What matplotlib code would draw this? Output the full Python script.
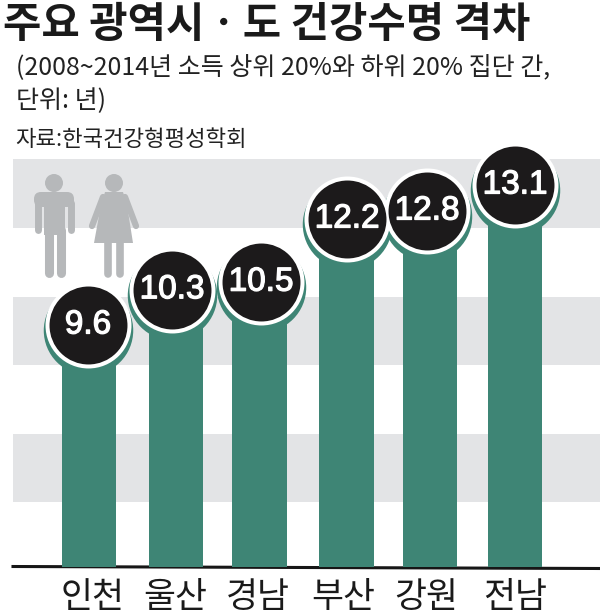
import matplotlib
matplotlib.use("Agg")
from matplotlib import pyplot as plt
from matplotlib.patches import Rectangle, Polygon, Circle, FancyBboxPatch
import matplotlib.patheffects as pe

plt.rcParams['font.family'] = ['Noto Sans CJK KR', 'DejaVu Sans']

regions = ['인천', '울산', '경남', '부산', '강원', '전남']
gap_labels = ['9.6', '10.3', '10.5', '12.2', '12.8', '13.1']
# heights as drawn in the picture, in years (the graphic is not quite to scale)
drawn_gap = [9.6, 10.48, 10.67, 12.25, 12.45, 13.1]

GREEN = '#3e8575'
BAND = '#e3e4e6'
DARK = '#1c1a1b'
ICON = '#b6b8ba'

fig = plt.figure(figsize=(6, 6.16), dpi=100)

# pixel layer for the background, icons and text
bg = fig.add_axes([0, 0, 1, 1])
bg.set_xlim(0, 600)
bg.set_ylim(616, 0)
bg.axis('off')

for top, bottom in [(159, 228), (297, 365), (434, 502)]:
    bg.add_patch(Rectangle((13, top), 587, bottom - top, color=BAND, lw=0))

# man
bg.add_patch(Circle((54, 183), 9, color=ICON, lw=0))
bg.add_patch(FancyBboxPatch((34, 192), 40, 15, boxstyle='round,pad=0,rounding_size=7', color=ICON, lw=0))
bg.add_patch(Rectangle((44, 200), 21, 35, color=ICON, lw=0))
for x in [37.5, 70.5]:
    bg.plot([x, x], [203, 230], color=ICON, lw=5, solid_capstyle='round')
for x in [48.5, 60.5]:
    bg.plot([x, x], [230, 273], color=ICON, lw=6.5, solid_capstyle='round')

# woman
bg.add_patch(Circle((114, 183), 9, color=ICON, lw=0))
bg.add_patch(Polygon([(105, 192), (123, 192), (127, 205), (133, 243), (94, 243), (101, 205)], color=ICON, lw=0))
bg.plot([103, 92], [197, 226], color=ICON, lw=4.5, solid_capstyle='round')
bg.plot([125, 136], [197, 226], color=ICON, lw=4.5, solid_capstyle='round')
for x in [108, 119.5]:
    bg.plot([x, x], [240, 274], color=ICON, lw=5.5, solid_capstyle='round')

# data layer, 40 px per year with the baseline at 3.55
ax = fig.add_axes([0, 0, 1, 1])
ax.patch.set_alpha(0)
ax.axis('off')
ax.set_xlim(0, 600)
ax.set_ylim(2.325, 17.725)

bar_x = [89, 176, 259.5, 346.5, 430, 515]
circle_x = [88, 172, 261, 347, 427, 515]
base = 3.55

ax.bar(bar_x, [v - base for v in drawn_gap], bottom=base, width=54.5, color=GREEN, linewidth=0, zorder=2)

ax.scatter(circle_x, [v - 0.13 for v in drawn_gap], s=4150, color=GREEN, linewidths=0, zorder=3)
ax.scatter(circle_x, drawn_gap, s=3830, color='white', linewidths=0, zorder=4)
ax.scatter(circle_x, drawn_gap, s=3150, color=DARK, linewidths=0, zorder=5)

for x, v, label in zip(circle_x, drawn_gap, gap_labels):
    ax.text(x, v, label, color='white', fontsize=24, family='Liberation Sans', ha='center', va='center', zorder=6,
            path_effects=[pe.withStroke(linewidth=0.9, foreground='white')])

bg.plot([13, 600], [566.5, 568.5], color='#161616', lw=2.2, zorder=3)

ax_label_x = [93, 175, 258, 343, 426, 515]
for x, name in zip(ax_label_x, regions):
    bg.text(x, 598, name, fontsize=25, color='#1a1a1a', ha='center', va='center')

bg.text(3, 25, '주요 광역시ㆍ도 건강수명 격차', fontsize=30, fontweight='bold', color='#1a1a1a', ha='left', va='center')
bg.text(16, 67, '(2008~2014년 소득 상위 20%와 하위 20% 집단 간,', fontsize=18, color='#222222', ha='left', va='center')
bg.text(16, 101, '단위: 년)', fontsize=18, color='#222222', ha='left', va='center')
bg.text(15, 140, '자료:한국건강형평성학회', fontsize=16, color='#222222', ha='left', va='center')

plt.savefig('out.png', dpi=100)
